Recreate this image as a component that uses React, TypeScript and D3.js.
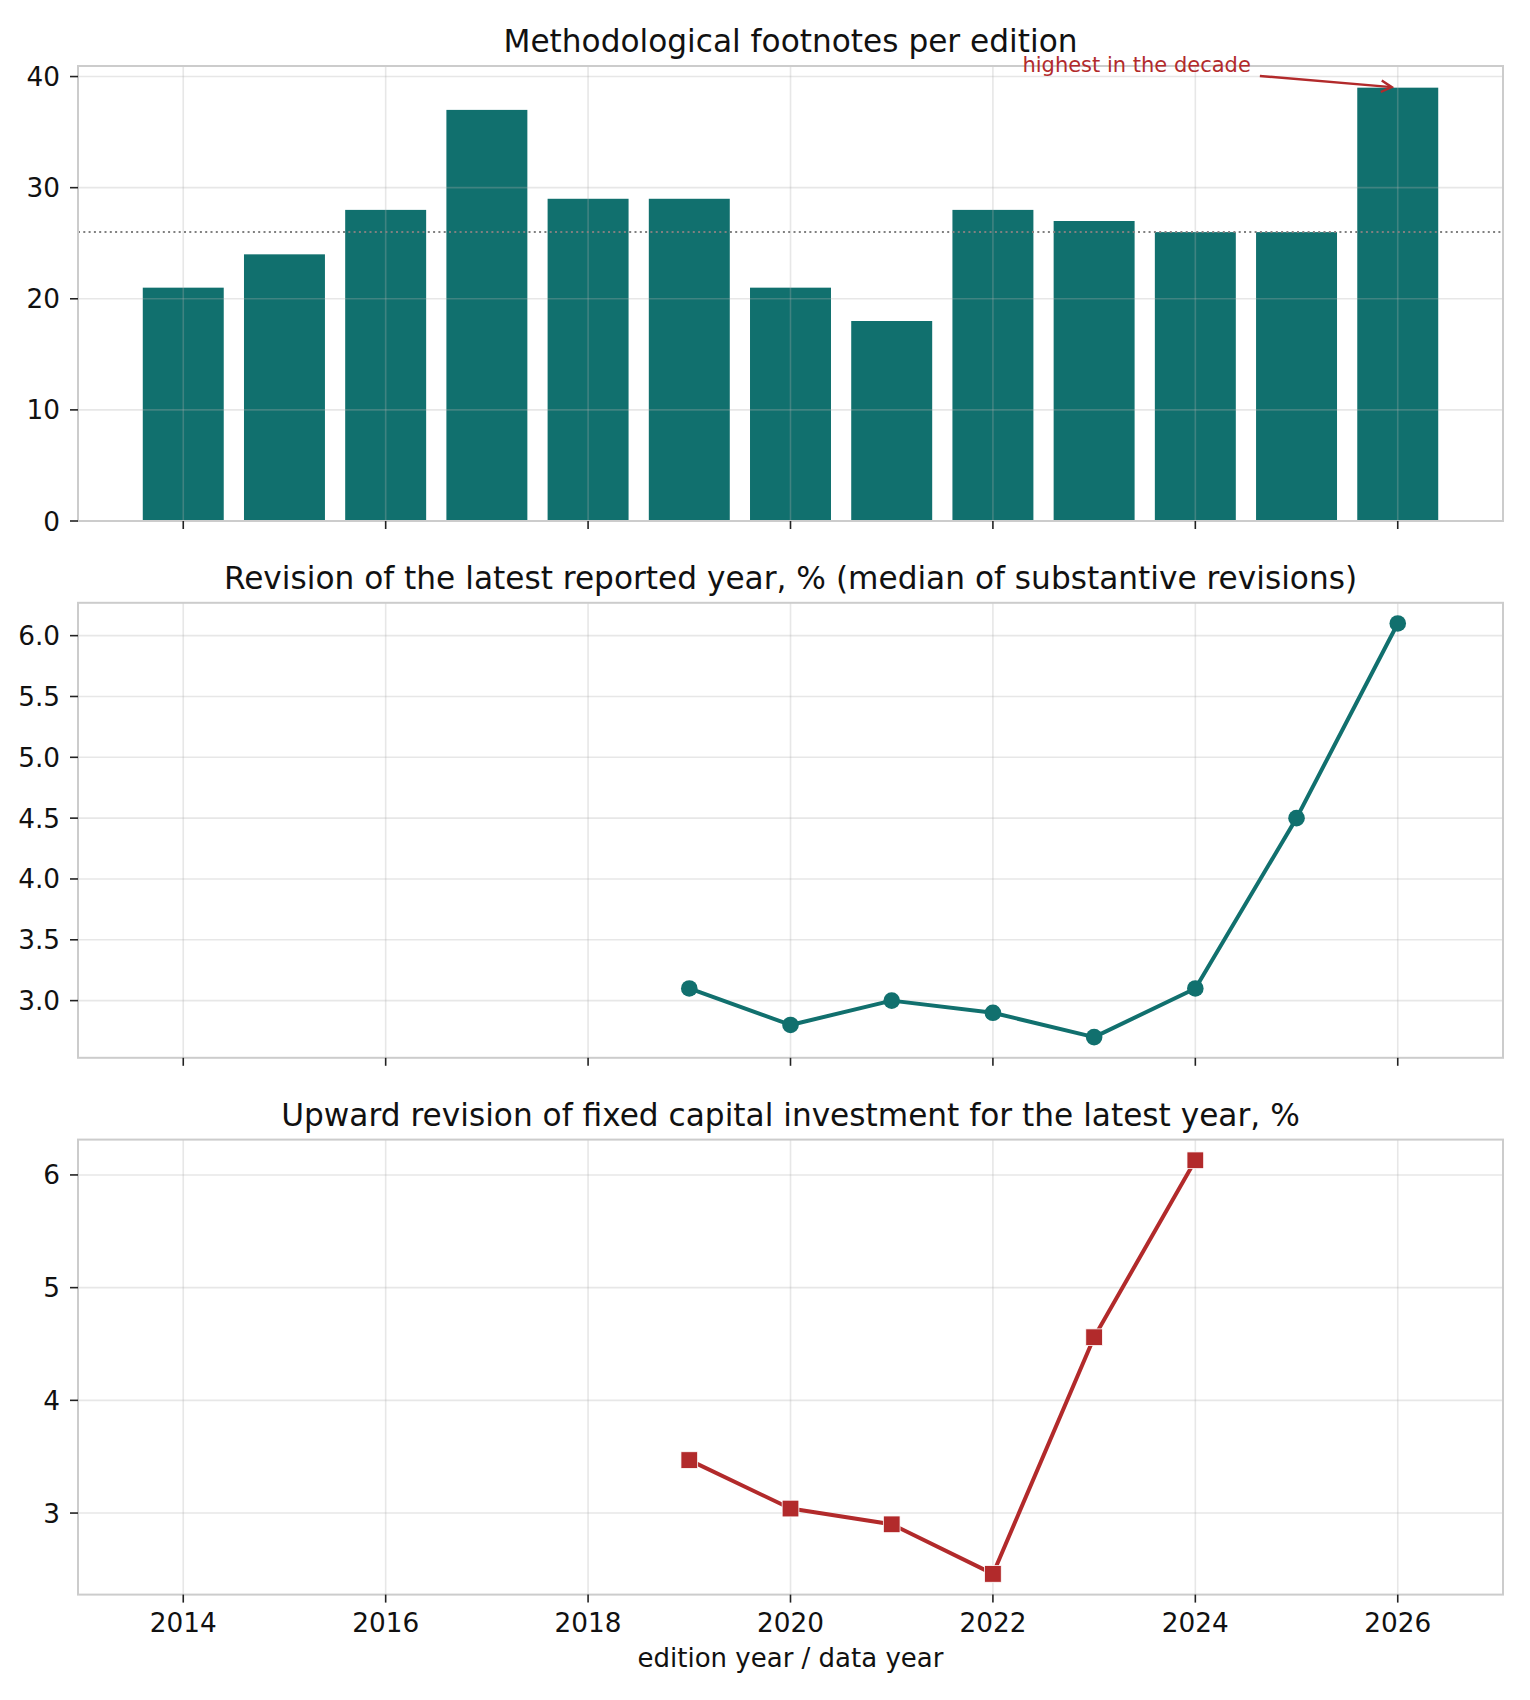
import { useEffect, useRef } from "react";
import * as d3 from "d3";

// ---- data ----
const YEARS = [2014, 2015, 2016, 2017, 2018, 2019, 2020, 2021, 2022, 2023, 2024, 2025, 2026];
const FOOTNOTES = [21, 24, 28, 37, 29, 29, 21, 18, 28, 27, 26, 26, 39];
const FOOTNOTE_REF = 26;

const REV_YEARS = [2019, 2020, 2021, 2022, 2023, 2024, 2025, 2026];
const REV_VALUES = [3.1, 2.8, 3.0, 2.9, 2.7, 3.1, 4.5, 6.1];

const INV_YEARS = [2019, 2020, 2021, 2022, 2023, 2024];
const INV_VALUES = [3.47, 3.04, 2.9, 2.46, 4.56, 6.13];

const X_TICKS = [2014, 2016, 2018, 2020, 2022, 2024, 2026];
const Y_TICKS_1 = [0, 10, 20, 30, 40];
const Y_TICKS_2 = [3.0, 3.5, 4.0, 4.5, 5.0, 5.5, 6.0];
const Y_TICKS_3 = [3, 4, 5, 6];

const TITLES = [
  "Methodological footnotes per edition",
  "Revision of the latest reported year, % (median of substantive revisions)",
  "Upward revision of fixed capital investment for the latest year, %",
];
const X_LABEL = "edition year / data year";
const ANNOT_TEXT = "highest in the decade";
const ANNOT_TEXT_XY: [number, number] = [2023.42, 41];
const ANNOT_POINT_XY: [number, number] = [2026, 39];

const TEAL = "#11706e";
const RED = "#b22a2b";
const FONT = "DejaVu Sans, Verdana, sans-serif";

export default function App() {
  const svgRef = useRef<SVGSVGElement>(null);
  const W = 1530;
  const H = 1700;

  useEffect(() => {
    if (!svgRef.current) return;
    document.body.style.margin = "0";
    const svg = d3.select(svgRef.current);
    svg.selectAll("*").remove();

    const left = 78;
    const right = 1503;
    const panelH = 455;
    const tops = [66, 602.8, 1139.6];
    const tickFont = 26.3;

    // shared x, matplotlib style autoscale of the bars (+5% margin)
    const xLo = d3.min(YEARS)! - 0.4;
    const xHi = d3.max(YEARS)! + 0.4;
    const xPad = (xHi - xLo) * 0.05;
    const x = d3.scaleLinear().domain([xLo - xPad, xHi + xPad]).range([left, right]);

    const padded = (vals: number[]) => {
      const lo = d3.min(vals)!;
      const hi = d3.max(vals)!;
      const p = (hi - lo) * 0.05;
      return [lo - p, hi + p];
    };

    const yScales = [
      d3.scaleLinear().domain([0, d3.max(FOOTNOTES)! * 1.05]).range([tops[0] + panelH, tops[0]]),
      d3.scaleLinear().domain(padded(REV_VALUES)).range([tops[1] + panelH, tops[1]]),
      d3.scaleLinear().domain(padded(INV_VALUES)).range([tops[2] + panelH, tops[2]]),
    ];
    const yTicks = [Y_TICKS_1, Y_TICKS_2, Y_TICKS_3];
    const yFmt = [d3.format("d"), d3.format(".1f"), d3.format("d")];

    yScales.forEach((y, i) => {
      const top = tops[i];
      const bottom = top + panelH;
      const g = svg.append("g");

      // bars go under the grid
      if (i === 0) {
        g.selectAll("rect.bar")
          .data(YEARS)
          .join("rect")
          .attr("x", (d) => x(d - 0.4))
          .attr("width", (d) => x(d + 0.4) - x(d - 0.4))
          .attr("y", (_, k) => y(FOOTNOTES[k]))
          .attr("height", (_, k) => y(0) - y(FOOTNOTES[k]))
          .attr("fill", TEAL);
      }

      // grid
      const grid = g.append("g").attr("stroke", "#b0b0b0").attr("stroke-opacity", 0.3).attr("stroke-width", 1.6);
      X_TICKS.forEach((t) => {
        grid.append("line").attr("x1", x(t)).attr("x2", x(t)).attr("y1", top).attr("y2", bottom);
      });
      yTicks[i].forEach((t) => {
        grid.append("line").attr("x1", left).attr("x2", right).attr("y1", y(t)).attr("y2", y(t));
      });

      if (i === 0) {
        g.append("line")
          .attr("x1", left).attr("x2", right)
          .attr("y1", y(FOOTNOTE_REF)).attr("y2", y(FOOTNOTE_REF))
          .attr("stroke", "#808080").attr("stroke-width", 2)
          .attr("stroke-dasharray", "2 3.3");
      } else {
        const xs = i === 1 ? REV_YEARS : INV_YEARS;
        const vs = i === 1 ? REV_VALUES : INV_VALUES;
        const color = i === 1 ? TEAL : RED;
        const pts = xs.map((d, k) => [x(d), y(vs[k])] as [number, number]);
        g.append("path")
          .attr("d", d3.line()(pts))
          .attr("fill", "none").attr("stroke", color).attr("stroke-width", 4)
          .attr("stroke-linejoin", "round");
        if (i === 1) {
          g.selectAll("circle.m").data(pts).join("circle")
            .attr("cx", (d) => d[0]).attr("cy", (d) => d[1]).attr("r", 8.3)
            .attr("fill", color);
        } else {
          const s = 16.7;
          g.selectAll("rect.m").data(pts).join("rect")
            .attr("x", (d) => d[0] - s / 2).attr("y", (d) => d[1] - s / 2)
            .attr("width", s).attr("height", s)
            .attr("fill", color).attr("stroke", "#ffffff").attr("stroke-width", 0.8);
        }
      }

      // spines
      g.append("rect")
        .attr("x", left).attr("y", top).attr("width", right - left).attr("height", panelH)
        .attr("fill", "none").attr("stroke", "#cccccc").attr("stroke-width", 2);

      // y ticks
      yTicks[i].forEach((t) => {
        g.append("line").attr("x1", left - 8).attr("x2", left).attr("y1", y(t)).attr("y2", y(t))
          .attr("stroke", "#222").attr("stroke-width", 1.6);
        g.append("text").attr("x", left - 18).attr("y", y(t) + 9.5)
          .attr("text-anchor", "end").attr("font-family", FONT).attr("font-size", tickFont).attr("fill", "#111")
          .text(yFmt[i](t));
      });
      // x ticks
      X_TICKS.forEach((t) => {
        g.append("line").attr("x1", x(t)).attr("x2", x(t)).attr("y1", bottom).attr("y2", bottom + 8)
          .attr("stroke", "#222").attr("stroke-width", 1.6);
        if (i === 2) {
          g.append("text").attr("x", x(t)).attr("y", bottom + 37.5)
            .attr("text-anchor", "middle").attr("font-family", FONT).attr("font-size", tickFont).attr("fill", "#111")
            .text(t);
        }
      });

      // title
      g.append("text").attr("x", (left + right) / 2).attr("y", top - 14)
        .attr("text-anchor", "middle").attr("font-family", FONT).attr("font-size", 31.2).attr("fill", "#111")
        .text(TITLES[i]);

      if (i === 0) {
        const tx = x(ANNOT_TEXT_XY[0]);
        const ty = y(ANNOT_TEXT_XY[1]);
        const label = g.append("text").attr("x", tx).attr("y", ty + 6.5)
          .attr("text-anchor", "middle").attr("font-family", FONT).attr("font-size", 21).attr("fill", RED)
          .text(ANNOT_TEXT);
        const bb = (label.node() as SVGTextElement).getBBox();
        const px = x(ANNOT_POINT_XY[0]);
        const py = y(ANNOT_POINT_XY[1]);
        const sx = bb.x + bb.width + 9;
        const t0 = (sx - tx) / (px - tx);
        const sy = ty + (py - ty) * t0;
        const ang = Math.atan2(py - sy, px - sx);
        const shrink = 6;
        const ex = px - Math.cos(ang) * shrink;
        const ey = py - Math.sin(ang) * shrink;
        const hl = 12;
        const hw = 0.5;
        g.append("path")
          .attr("d", `M${sx},${sy}L${ex},${ey}`)
          .attr("stroke", RED).attr("stroke-width", 2.4).attr("fill", "none");
        g.append("path")
          .attr("d", `M${ex - hl * Math.cos(ang - hw)},${ey - hl * Math.sin(ang - hw)}L${ex},${ey}L${ex - hl * Math.cos(ang + hw)},${ey - hl * Math.sin(ang + hw)}`)
          .attr("stroke", RED).attr("stroke-width", 2.4).attr("fill", "none");
      }
    });

    svg.append("text").attr("x", (left + right) / 2).attr("y", 1667)
      .attr("text-anchor", "middle").attr("font-family", FONT).attr("font-size", 26).attr("fill", "#111")
      .text(X_LABEL);
  }, []);

  return (
    <svg ref={svgRef} width={W} height={H} style={{ display: "block", background: "#ffffff" }} />
  );
}
